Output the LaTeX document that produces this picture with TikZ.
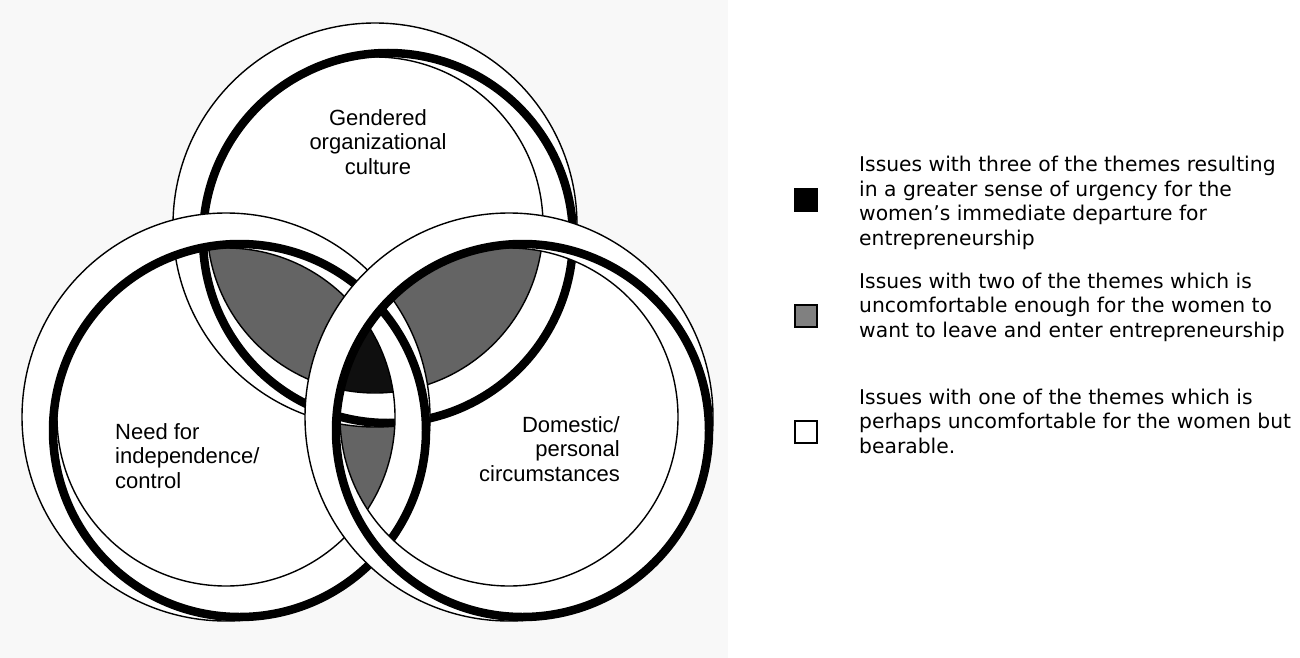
\documentclass[tikz,border=0pt]{standalone}
\usepackage{fontspec}
\setmainfont{Liberation Sans}
\newfontfamily\legendfont{DejaVu Sans}
\definecolor{bgc}{RGB}{248,248,248}
\definecolor{pairc}{RGB}{100,100,100}
\definecolor{triplec}{RGB}{15,15,15}
\definecolor{legc}{RGB}{128,128,128}
% top ring
\newcommand{\ringTO}{(375,225) circle[radius=202pt]}
\newcommand{\ringTI}{(375,225) circle[radius=168pt]}
\newcommand{\ringTK}{(388,238) circle[radius=185pt]}
% left ring
\newcommand{\ringLO}{(226,417) circle[radius=204pt]}
\newcommand{\ringLI}{(226,417) circle[radius=169pt]}
\newcommand{\ringLK}{(239.5,430.5) circle[radius=186.5pt]}
% right ring
\newcommand{\ringRO}{(509,417) circle[radius=204pt]}
\newcommand{\ringRI}{(509,417) circle[radius=169pt]}
\newcommand{\ringRK}{(522.5,430.5) circle[radius=186.5pt]}
\begin{document}
\begin{tikzpicture}[x=1pt,y=-1pt,
  thinring/.style={line width=1.4pt},
  thickring/.style={line width=8.5pt},
  band/.style={fill=white, even odd rule},
  lbl/.style={font=\fontsize{22}{24.5}\selectfont, inner sep=0pt},
  leg/.style={font=\legendfont\fontsize{20.3}{24.5}\selectfont, align=left, inner sep=0pt, anchor=base west},
  sq/.style={minimum size=22pt, inner sep=0pt, draw=black, line width=1.3pt}]
\useasboundingbox (0,0) rectangle (1300,658);
\fill[bgc] (0,0) rectangle (728,658);
% white interiors
\fill[white] \ringTO; \fill[white] \ringLO; \fill[white] \ringRO;
% pairwise overlaps
\begin{scope}\clip \ringTI; \clip \ringLI;
  \fill[pairc] (0,0) rectangle (728,658);\end{scope}
\begin{scope}\clip \ringTI; \clip \ringRI;
  \fill[pairc] (0,0) rectangle (728,658);\end{scope}
\begin{scope}\clip \ringLI; \clip \ringRI;
  \fill[pairc] (0,0) rectangle (728,658);\end{scope}
% triple overlap
\begin{scope}\clip \ringTI; \clip \ringLI; \clip \ringRI;
  \fill[triplec] (0,0) rectangle (728,658);\end{scope}
% rings: top, then left, then right
\fill[band] \ringTO \ringTI;
\draw[thinring] \ringTO; \draw[thinring] \ringTI; \draw[thickring] \ringTK;
\fill[band] \ringLO \ringLI;
\draw[thinring] \ringLO; \draw[thinring] \ringLI; \draw[thickring] \ringLK;
\fill[band] \ringRO \ringRI;
\draw[thinring] \ringRO; \draw[thinring] \ringRI; \draw[thickring] \ringRK;
% circle labels
\node[lbl, align=center, anchor=base] (gen) at (378,174) {Gendered\\organizational\\culture};
\node[lbl, align=left, anchor=base west] (need) at (115,488) {Need for\\independence/\\control};
\node[lbl, align=right, anchor=base east] (dom) at (620,481) {Domestic/\\personal\\circumstances};
% legend
\node[sq, fill=black] (s1) at (806,200) {};
\node[sq, fill=legc] (s2) at (806,316) {};
\node[sq, fill=white] (s3) at (806,432) {};
\node[leg] (t1) at (859,245) {Issues with three of the themes resulting\\in a greater sense of urgency for the\\women’s immediate departure for\\entrepreneurship};
\node[leg] (t2) at (859,337) {Issues with two of the themes which is\\uncomfortable enough for the women to\\want to leave and enter entrepreneurship};
\node[leg] (t3) at (859,453) {Issues with one of the themes which is\\perhaps uncomfortable for the women but\\bearable.};
\end{tikzpicture}
\end{document}
